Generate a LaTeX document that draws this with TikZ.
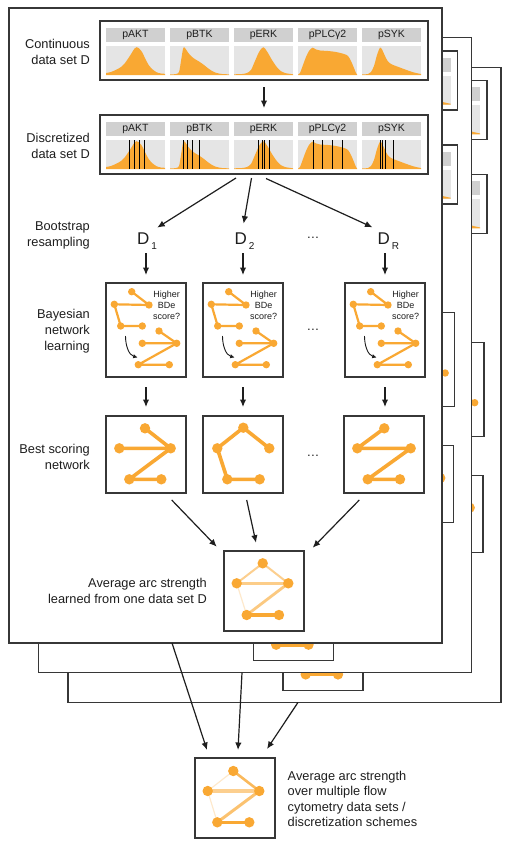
\documentclass[tikz,border=0pt]{standalone}
\usepackage{fontspec}
\setmainfont{Liberation Sans}
\usetikzlibrary{arrows.meta}
\definecolor{org}{RGB}{249,168,51}
\definecolor{hdr}{RGB}{208,208,208}
\definecolor{hbg}{RGB}{229,229,229}
\definecolor{ink}{RGB}{30,30,30}
\definecolor{frm}{RGB}{55,55,55}
\newif\ifshowtxt
\tikzset{
 arr/.style={draw=ink, line width=1.2pt, -{Latex[length=7.5pt,width=6.5pt]}},
 curv/.style={draw=ink, line width=0.9pt, -{Latex[length=4.5pt,width=4.5pt]}},
 framebox/.style={draw=frm, line width=1.4pt, fill=white, anchor=north west, inner sep=0pt, outer sep=0pt},
 panelbox/.style={draw=frm, line width=1.7pt, anchor=north west, minimum width=328pt, minimum height=59pt, inner sep=0pt, outer sep=0pt},
 netbox/.style={draw=frm, line width=1.5pt, anchor=north west, minimum width=80pt, inner sep=0pt, outer sep=0pt},
 lbl/.style={font=\fontsize{12.8}{16}\selectfont, text=ink, align=right, anchor=east, inner sep=0pt},
 hdrtxt/.style={font=\fontsize{10.5}{12}\selectfont, text=ink, inner sep=0pt},
 qtxt/.style={font=\fontsize{9}{11}\selectfont, text=ink, align=center, inner sep=0pt},
 dtxt/.style={font=\fontsize{17}{17}\selectfont, text=ink, anchor=base west, inner sep=0pt},
 ell/.style={font=\fontsize{12.8}{16}\selectfont, text=ink, anchor=base, inner sep=0pt},
 vline/.style={draw=black, line width=1pt},
 bedge/.style={draw=org, line width=2.2pt, line join=round, line cap=round},
 sedge/.style={draw=org, line width=3.6pt, line join=round, line cap=round},
}
\newcommand\dsub[1]{\kern2pt\raisebox{-5pt}{\fontsize{10}{10}\selectfont #1}}
% one histogram column: name, x, bg top, label, curve
\newcommand\hcol[5]{%
 \begin{scope}[shift={(#2,#3)}]
  \fill[hdr] (0,-18) rectangle (59,-4);
  \ifshowtxt\node[hdrtxt] (#1) at (29.5,-11) {#4};\fi
  \fill[hbg] (0,0) rectangle (59,29);
  \begin{scope}
   \clip (0,0) rectangle (59,29);
   \fill[org] (0,29) -- plot[smooth] coordinates {#5} -- (59,29) -- cycle;
  \end{scope}
 \end{scope}}
\newcommand\vlines[3]{\foreach \v in {#3} {\draw[vline] (#1+\v,#2) -- (#1+\v,#2+29);}}
\newcommand\histrow[3]{%
 \hcol{#3a#1}{106}{#2}{pAKT}{(0,27) (5,26) (10.7,23.5) (15,21) (19,17) (22.5,12) (25.7,7) (28.5,2.5) (30.5,1.2) (32.5,2) (35.7,5.5) (38,10) (40.7,15.5) (43,19.5) (45.7,22.7) (50.7,26.3) (55,27.5) (59,27.8)}
 \hcol{#3b#1}{170}{#2}{pBTK}{(0,28.5) (6,28) (9,26) (11,15) (13,3) (14.5,1.5) (17,5) (20,9) (24,12.5) (29,15.5) (34,19) (39,23) (45,26.5) (52,28) (59,28.3)}
 \hcol{#3c#1}{234}{#2}{pERK}{(0,28.3) (8,28) (13,27) (17,24) (21,15) (25,6) (28,2) (29.5,1.3) (31,2.5) (34,7) (38,14) (42,20) (46,24.5) (51,27) (59,28.3)}
 \hcol{#3d#1}{298}{#2}{pPLCγ2}{(0,28.5) (2,27) (5,19) (8,11) (11,5) (14.5,1.7) (18,3.5) (22,4.5) (30,5) (38,6) (46,8) (50,10) (53,15) (56,22) (58,27) (59,28.5)}
 \hcol{#3e#1}{362}{#2}{pSYK}{(0,28.5) (6,28) (9,26) (12,20) (15,9) (18,1.7) (20,3.5) (23,10) (26,15.5) (30,18.5) (36,20.8) (44,23.8) (52,26.5) (59,28)}}
% Bayesian learning icon
\newcommand\bnet[3]{%
 \begin{scope}[shift={(#1,#2)}]
  \draw[bedge] (25.7,8.7) -- (43,22) -- (8.3,21.3) -- (14.7,43) -- (36.3,43);
  \draw[bedge] (53,48) -- (70.7,60.3) -- (36.3,60.3);
  \draw[bedge] (70.7,60.3) -- (32.3,81.7) -- (63.3,81.7);
  \foreach \x/\y in {25.7/8.7, 43/22, 8.3/21.3, 14.7/43, 36.3/43, 53/48, 70.7/60.3, 36.3/60.3, 32.3/81.7, 63.3/81.7} {\fill[org] (\x,\y) circle (3.7pt);}
  \ifshowtxt\node[qtxt] (#3) at (60.7,22.7) {Higher\\BDe\\score?};\fi
  \draw[curv] (19.5,53) .. controls (19.5,63) and (23,72) .. (31.7,74.5);
 \end{scope}}
\newcommand\sdots[1]{\foreach \x/\y in {#1} {\fill[org] (\x,\y) circle (5.2pt);}}
\newcommand\bestone[2]{\begin{scope}[shift={(#1,#2)}]
  \draw[sedge] (39,12.3) -- (64.7,32.3) -- (13.3,32.3);
  \draw[sedge] (64.7,32.3) -- (23.3,63.3) -- (55.3,63.3);
  \sdots{39/12.3, 64.7/32.3, 13.3/32.3, 23.3/63.3, 55.3/63.3}
 \end{scope}}
\newcommand\besttwo[2]{\begin{scope}[shift={(#1,#2)}]
  \draw[sedge] (66.3,32.3) -- (40.3,11.7) -- (14.3,32.3) -- (24.3,63.3) -- (56.7,63.3);
  \sdots{40.3/11.7, 66.3/32.3, 14.3/32.3, 24.3/63.3, 56.7/63.3}
 \end{scope}}
\newcommand\bestthree[2]{\begin{scope}[shift={(#1,#2)}]
  \draw[sedge] (40.3,12.3) -- (13.3,32.3) -- (66.7,32.3) -- (23.7,63.3) -- (56,63.3);
  \sdots{40.3/12.3, 66.7/32.3, 13.3/32.3, 23.7/63.3, 56/63.3}
 \end{scope}}
\newcommand\avgnet[2]{\begin{scope}[shift={(#1,#2)}]
  \draw[draw=org!25, line width=1.2pt] (12.7,32.3) -- (22.7,64);
  \draw[draw=org!55, line width=2pt, line cap=round] (12.7,32.3) -- (38.7,12.3) -- (64.3,32.3);
  \draw[draw=org!58, line width=2.5pt] (12.7,32.3) -- (64.3,32.3);
  \draw[draw=org!62, line width=2.8pt] (64.3,32.3) -- (22.7,64);
  \draw[draw=org, line width=3.6pt] (22.7,64) -- (55,64);
  \sdots{38.7/12.3, 64.3/32.3, 12.7/32.3, 22.7/64, 55/64}
 \end{scope}}
\newcommand\finnet[2]{\begin{scope}[shift={(#1,#2)}]
  \draw[draw=org!25, line width=1.2pt] (38.3,13) -- (12.7,33) -- (22.3,64.3);
  \draw[draw=org!80, line width=2.6pt] (38.3,13) -- (64.3,33);
  \draw[draw=org!55, line width=3.2pt] (12.7,33) -- (64.3,33);
  \draw[draw=org!70, line width=3pt] (64.3,33) -- (22.3,64.3);
  \draw[draw=org, line width=3.6pt] (22.3,64.3) -- (54.3,64.3);
  \sdots{38.3/13, 64.3/33, 12.7/33, 22.3/64.3, 54.3/64.3}
 \end{scope}}
% one whole page of the stack (texts only on the front page, the others are covered)
\newcommand\framecontent[1]{%
 \node[framebox, minimum width=433pt, minimum height=635pt] (frame#1) at (9,8) {};
 \ifshowtxt
 \node[lbl] (lcont#1) at (90,52) {Continuous\\data set D};
 \node[lbl] (ldisc#1) at (90,146) {Discretized\\data set D};
 \node[lbl] (lboot#1) at (90,235) {Bootstrap\\resampling};
 \node[lbl] (lbayes#1) at (90,331) {Bayesian\\network\\learning};
 \node[lbl] (lbest#1) at (90,457) {Best scoring\\network};
 \node[lbl] (lavg#1) at (207,591) {Average arc strength\\learned from one data set D};
 \fi
 \node[panelbox] (cont#1) at (100,21) {};
 \histrow{#1}{46}{r}
 \node[panelbox] (disc#1) at (100,115) {};
 \histrow{#1}{140}{s}
 \vlines{106}{140}{23.3,28.7,33,38}
 \vlines{170}{140}{13.3,17.3,22.7,29}
 \vlines{234}{140}{24.7,28.3,30.7,35.3}
 \vlines{298}{140}{15.3,24.7,34,44}
 \vlines{362}{140}{18,20.7,23.3,31.3}
 \node[netbox, minimum height=94pt] (bna#1) at (106,283) {};
 \node[netbox, minimum height=94pt] (bnb#1) at (203,283) {};
 \node[netbox, minimum height=94pt] (bnr#1) at (345,283) {};
 \bnet{106}{283}{qa#1}
 \bnet{203}{283}{qb#1}
 \bnet{345}{283}{qr#1}
 \node[netbox, minimum height=77pt] (bsa#1) at (106,416) {};
 \node[netbox, minimum height=77pt] (bsb#1) at (203,416) {};
 \node[netbox, minimum height=77pt] (bsr#1) at (344,416) {};
 \bestone{106}{416}
 \besttwo{203}{416}
 \bestthree{344}{416}
 \node[netbox, minimum height=80pt] (avg#1) at (224,551) {};
 \avgnet{224}{551}
 \ifshowtxt
 \draw[arr, shorten <=7pt, shorten >=7pt] (cont#1) -- (disc#1);
 \node[dtxt] (da#1) at (137,244) {D\dsub{1}};
 \node[dtxt] (db#1) at (234.5,244) {D\dsub{2}};
 \node[dtxt] (dr#1) at (377.5,244) {D\dsub{R}};
 \node[ell] (ea#1) at (313,238.5) {…};
 \node[ell] (eb#1) at (313,330.5) {…};
 \node[ell] (ec#1) at (313,456.5) {…};
 \draw[arr] ([xshift=-28pt,yshift=-4pt]disc#1.south) -- ([yshift=4.5pt]da#1.north east);
 \draw[arr] ([xshift=-12.5pt,yshift=-4pt]disc#1.south) -- ([xshift=-1pt,yshift=8.5pt]db#1.north);
 \draw[arr] ([xshift=2pt,yshift=-4.5pt]disc#1.south) -- ([xshift=-5pt,yshift=4.8pt]dr#1.north west);
 \draw[arr, shorten <=4pt, shorten >=8pt] (bna#1.north |- da#1.south) -- (bna#1.north);
 \draw[arr, shorten <=4pt, shorten >=8pt] (bnb#1.north |- db#1.south) -- (bnb#1.north);
 \draw[arr, shorten <=4pt, shorten >=8pt] (bnr#1.north |- dr#1.south) -- (bnr#1.north);
 \draw[arr, shorten <=10pt, shorten >=9pt] (bna#1.south) -- (bsa#1.north);
 \draw[arr, shorten <=10pt, shorten >=9pt] (bnb#1.south) -- (bsb#1.north);
 \draw[arr, shorten <=10pt, shorten >=9pt] (bnr#1.south) -- (bnr#1.south |- bsr#1.north);
 \draw[arr] ([xshift=-14.3pt,yshift=-7pt]bsa#1.south east) -- ([xshift=-7.3pt,yshift=4.3pt]avg#1.north west);
 \draw[arr] ([xshift=3.7pt,yshift=-7pt]bsb#1.south) -- ([xshift=-8pt,yshift=8.3pt]avg#1.north);
 \draw[arr] ([xshift=15.3pt,yshift=-7pt]bsr#1.south west) -- ([xshift=8.7pt,yshift=3.3pt]avg#1.north east);
 \fi
}
\begin{document}
\begin{tikzpicture}[x=1pt,y=-1pt]
\useasboundingbox (0,0) rectangle (520,859);
\showtxtfalse
\begin{scope}[shift={(59,59.4)}]\framecontent{C}\end{scope}
\begin{scope}[shift={(29.5,29.7)}]\framecontent{B}\end{scope}
\showtxttrue
\framecontent{A}
\node[netbox, minimum height=80pt] (fin) at (195,758) {};
\finnet{195}{758}
\node[lbl, align=left, anchor=west, font=\fontsize{12.8}{15.3}\selectfont] (lfin) at (287.5,799) {Average arc strength\\over multiple flow\\cytometry data sets /\\discretization schemes};
\draw[arr] ([xshift=163pt]frameA.south west) -- ([xshift=12pt,yshift=8pt]fin.north west);
\draw[arr] ([xshift=203.5pt]frameB.south west) -- ([xshift=3pt,yshift=8pt]fin.north);
\draw[arr] ([xshift=230pt]frameC.south west) -- ([xshift=-8pt,yshift=9pt]fin.north east);
\end{tikzpicture}
\end{document}
